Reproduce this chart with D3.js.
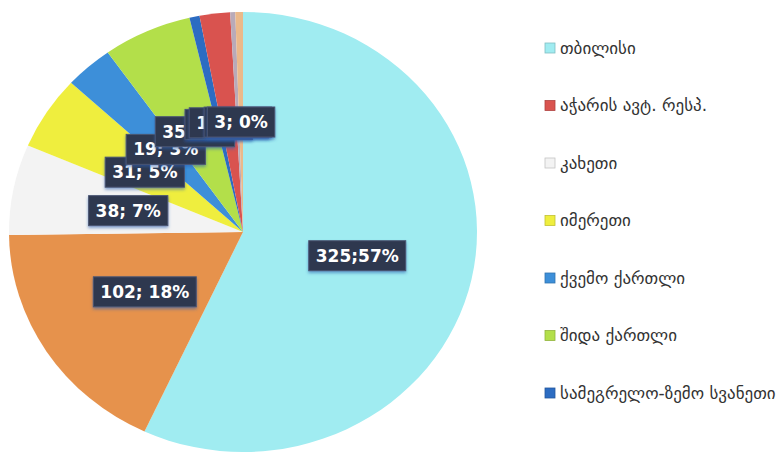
<!DOCTYPE html>
<html>
<head>
<meta charset="utf-8">
<script src="https://cdn.jsdelivr.net/npm/d3@7"></script>
<style>
  html, body { margin: 0; padding: 0; background: #ffffff; }
  svg { display: block; }
</style>
</head>
<body>
<svg id="chart" width="783" height="456"></svg>
<script>
// Registered cases by region, in slice order (clockwise from 12 o'clock)
const regions = [
  "თბილისი",
  "სხვა რეგიონები",
  "კახეთი",
  "იმერეთი",
  "ქვემო ქართლი",
  "შიდა ქართლი",
  "სამეგრელო-ზემო სვანეთი",
  "აჭარის ავტ. რესპ.",
  "გურია",
  "სამცხე-ჯავახეთი"
];
const counts = [325, 102, 38, 31, 19, 35, 4, 12, 2, 3];
const shares = ["57%", "18%", "7%", "5%", "3%", "6%", "1%", "2%", "0%", "0%"];
const separators = [";", "; ", "; ", "; ", "; ", "; ", "; ", "; ", "; ", "; "];
const sliceColors = ["#a0ecf1", "#e6924c", "#f3f3f3", "#efee3e", "#3d8fd9", "#b3df4a", "#2c6cc2", "#d9534f", "#b9aab8", "#ebb98a"];

// Legend entries (in listing order)
const legendItems = [
  "თბილისი",
  "აჭარის ავტ. რესპ.",
  "კახეთი",
  "იმერეთი",
  "ქვემო ქართლი",
  "შიდა ქართლი",
  "სამეგრელო-ზემო სვანეთი"
];

const svg = d3.select("#chart");

const cx = 243, cy = 232, rx = 234, ry = 220;

const color = d3.scaleOrdinal().domain(regions).range(sliceColors);

const data = regions.map((name, i) => ({ name, value: counts[i], share: shares[i], sep: separators[i] }));

const pie = d3.pie().sort(null).value(d => d.value).startAngle(0).endAngle(2 * Math.PI);
const arcs = pie(data);
const arc = d3.arc().innerRadius(0).outerRadius(rx);

const defs = svg.append("defs");
const shadow = defs.append("filter").attr("id", "lblShadow")
  .attr("x", "-20%").attr("y", "-30%").attr("width", "140%").attr("height", "170%");
shadow.append("feGaussianBlur").attr("in", "SourceAlpha").attr("stdDeviation", 1.6).attr("result", "b");
shadow.append("feOffset").attr("in", "b").attr("dx", 0).attr("dy", 2).attr("result", "o");
shadow.append("feFlood").attr("flood-color", "#2b5fb0").attr("flood-opacity", 0.55).attr("result", "c");
shadow.append("feComposite").attr("in", "c").attr("in2", "o").attr("operator", "in").attr("result", "s");
const merge = shadow.append("feMerge");
merge.append("feMergeNode").attr("in", "s");
merge.append("feMergeNode").attr("in", "SourceGraphic");

// Pie (slightly flattened vertically)
const pieG = svg.append("g")
  .attr("transform", `translate(${cx},${cy}) scale(1,${ry / rx})`);

pieG.selectAll("path.slice")
  .data(arcs)
  .join("path")
  .attr("class", "slice")
  .attr("d", arc)
  .attr("fill", d => color(d.data.name))
  .attr("stroke", "none");

// Data labels: value; share, centred halfway along each slice's mid-angle
const labelG = svg.append("g").attr("font-family", "'DejaVu Sans', Verdana, sans-serif")
  .attr("font-weight", "bold").attr("font-size", 17);

arcs.forEach(d => {
  const mid = (d.startAngle + d.endAngle) / 2;
  const x = cx + Math.sin(mid) * rx * 0.5;
  const y = cy - Math.cos(mid) * ry * 0.5;
  const g = labelG.append("g").attr("transform", `translate(${x},${y})`);
  const rect = g.append("rect").attr("fill", "#2f3850")
    .attr("stroke", "#4a5572").attr("stroke-width", 1)
    .attr("filter", "url(#lblShadow)");
  const t = g.append("text")
    .attr("text-anchor", "middle")
    .attr("dy", "0.36em")
    .attr("fill", "#ffffff")
    .text(`${d.data.value}${d.data.sep}${d.data.share}`);
  const w = t.node().getComputedTextLength();
  rect.attr("x", -w / 2 - 7).attr("y", -15).attr("width", w + 14).attr("height", 30);
});

// Legend
const legend = svg.append("g").attr("transform", "translate(545,48)");
const ly = d3.scalePoint().domain(legendItems).range([0, 345]);

const li = legend.selectAll("g.item")
  .data(legendItems)
  .join("g")
  .attr("class", "item")
  .attr("transform", d => `translate(0,${ly(d)})`);

li.append("rect")
  .attr("x", 0).attr("y", -5)
  .attr("width", 10).attr("height", 10)
  .attr("fill", d => color(d))
  .attr("stroke", d => d3.color(color(d)).darker(0.6))
  .attr("stroke-width", 0.8);

li.append("text")
  .attr("x", 15)
  .attr("dy", "0.35em")
  .attr("font-family", "'DejaVu Sans', sans-serif")
  .attr("font-size", 17)
  .attr("fill", "#333333")
  .text(d => d);
</script>
</body>
</html>
